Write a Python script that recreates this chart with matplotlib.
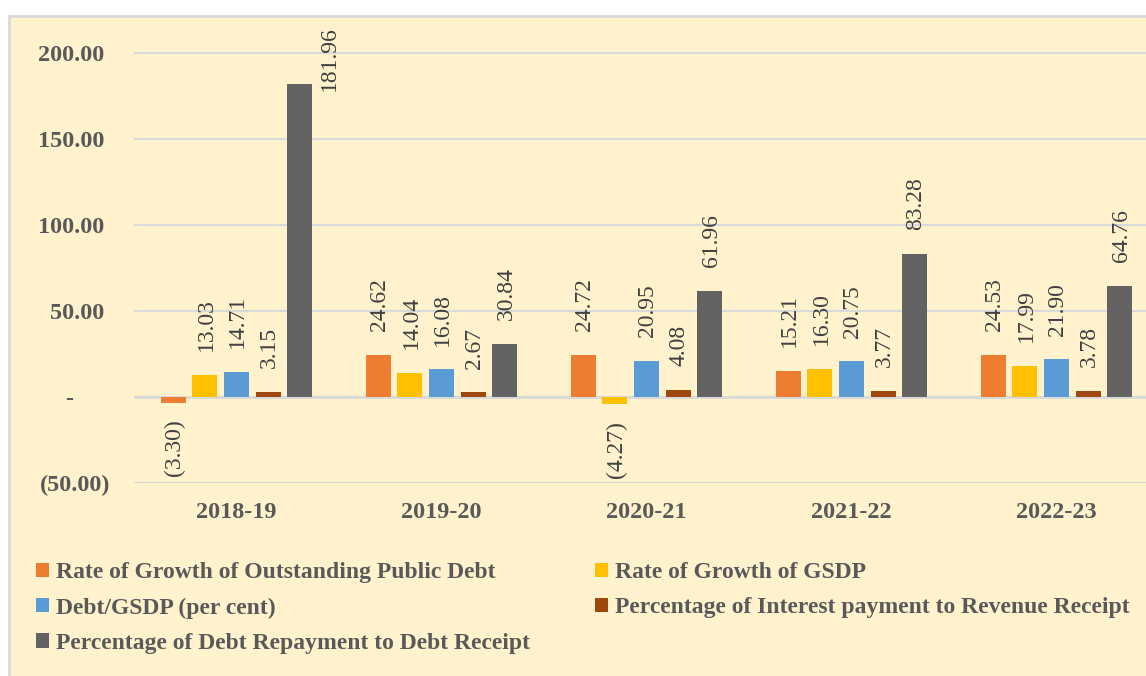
import matplotlib.pyplot as plt
import numpy as np
from matplotlib.patches import Rectangle
from matplotlib.ticker import FuncFormatter

years = ['2018-19', '2019-20', '2020-21', '2021-22', '2022-23']
series_names = ['Rate of Growth of Outstanding Public Debt',
                'Rate of Growth of GSDP',
                'Debt/GSDP (per cent)',
                'Percentage of Interest payment to Revenue Receipt',
                'Percentage of Debt Repayment to Debt Receipt']
debt_growth = [-3.30, 24.62, 24.72, 15.21, 24.53]
gsdp_growth = [13.03, 14.04, -4.27, 16.30, 17.99]
debt_gsdp = [14.71, 16.08, 20.95, 20.75, 21.90]
interest_rr = [3.15, 2.67, 4.08, 3.77, 3.78]
repay_receipt = [181.96, 30.84, 61.96, 83.28, 64.76]
colors = ['#ED7D31', '#FFC000', '#5B9BD5', '#9E480E', '#636363']

plt.rcParams['font.family'] = ['Liberation Serif', 'DejaVu Serif']
txt = '#595959'
bg = '#FFF2CC'

fig = plt.figure(figsize=(11.46, 6.76), dpi=100)
fig.patch.set_facecolor('white')
# chart area box
fig.add_artist(Rectangle((9 / 1146, -0.01), 1.2, 1 - 16 / 676 + 0.01,
                         transform=fig.transFigure, facecolor=bg,
                         edgecolor='#D9D9D9', linewidth=2, zorder=0))

ax = fig.add_axes([134 / 1146, 1 - 483 / 676, 1025 / 1146, (483 - 36) / 676])
ax.set_facecolor('none')
ymax = 210

all_series = [debt_growth, gsdp_growth, debt_gsdp, interest_rr, repay_receipt]
x = np.arange(len(years))
pitch = 0.154
width = 0.122
for i, vals in enumerate(all_series):
    pos = x + (i - 2) * pitch
    ax.bar(pos, vals, width, color=colors[i], label=series_names[i], zorder=3)
    for p, v in zip(pos, vals):
        lab = '%.2f' % v if v >= 0 else '(%.2f)' % abs(v)
        if v < 0:
            ax.annotate(lab, (p, v), xytext=(1, -12), textcoords='offset points',
                        rotation=90, ha='center', va='top', fontsize=17, color='#404040')
        elif v + 50 > ymax:
            # no room above the bar: put the label beside it
            ax.annotate(lab, (p + width / 2, v), xytext=(5, -5), textcoords='offset points',
                        rotation=90, ha='left', va='bottom', fontsize=17, color='#404040')
        else:
            ax.annotate(lab, (p, v), xytext=(1, 17), textcoords='offset points',
                        rotation=90, ha='center', va='bottom', fontsize=17, color='#404040')

ax.set_xlim(-0.5, 4.5)
ax.set_ylim(-50, ymax)
ax.set_yticks([-50, 0, 50, 100, 150, 200])


def fmt(v, pos):
    if v == 0:
        return '-      '
    if v < 0:
        return '(%.2f)' % abs(v)
    return '%.2f ' % v


ax.yaxis.set_major_formatter(FuncFormatter(fmt))
ax.grid(axis='y', color='#D9D9D9', linewidth=1.5, zorder=0)
ax.axhline(0, color='#D9D9D9', linewidth=2, zorder=2)
for s in ax.spines.values():
    s.set_visible(False)
ax.tick_params(length=0)
ax.tick_params(axis='y', pad=17)
ax.tick_params(axis='x', pad=14)
ax.set_xticks(x)
ax.set_xticklabels(years)
for t in ax.get_xticklabels() + ax.get_yticklabels():
    t.set_fontsize(17.5)
    t.set_fontweight('bold')
    t.set_color(txt)

handles, labels = ax.get_legend_handles_labels()
order = [0, 2, 4, 1, 3]
leg = fig.legend([handles[k] for k in order], [labels[k] for k in order],
                 loc='upper left', bbox_to_anchor=(15 / 1146, 1 - 541 / 676),
                 ncol=2, frameon=False, handlelength=0.55, handleheight=0.55,
                 handletextpad=0.3, columnspacing=2.75, labelspacing=0.6,
                 prop={'weight': 'bold', 'size': 17})
for t in leg.get_texts():
    t.set_color(txt)

fig.savefig('out.png', dpi=100, facecolor=fig.get_facecolor())
